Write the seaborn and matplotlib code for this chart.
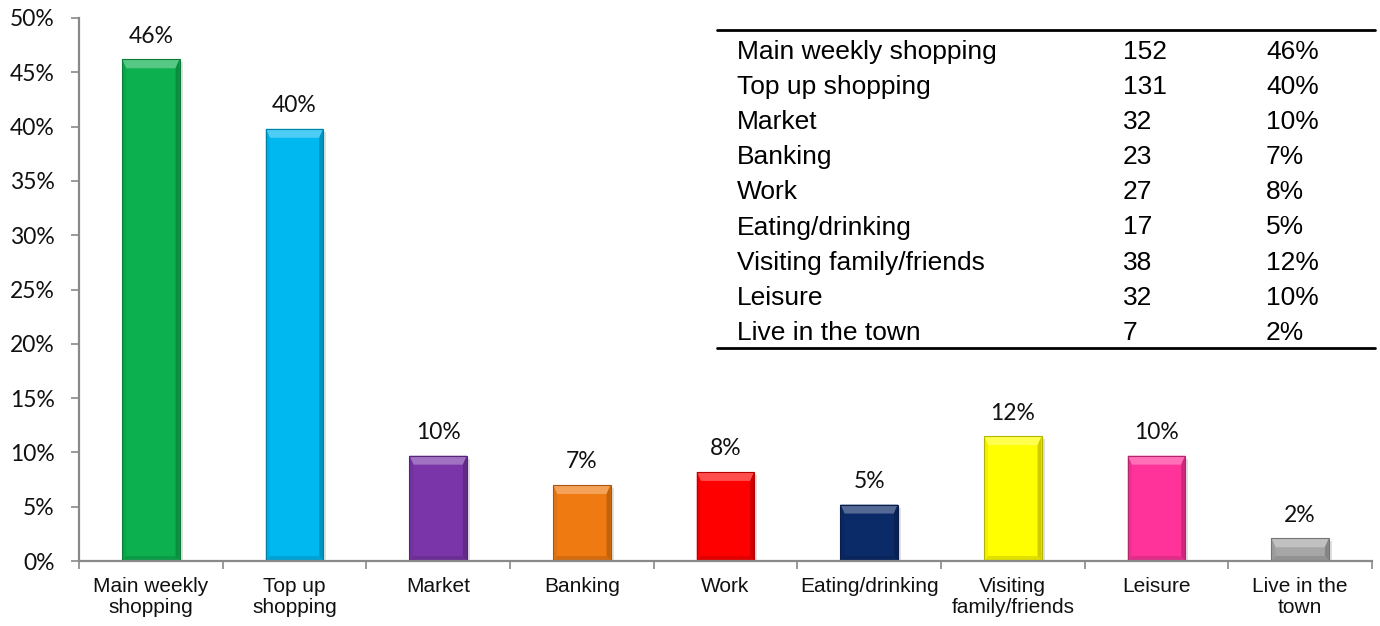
import numpy as np
import pandas as pd
import matplotlib
matplotlib.use("Agg")
import matplotlib.pyplot as plt
from matplotlib.patches import Polygon
from matplotlib.ticker import FixedLocator, PercentFormatter
from matplotlib.colors import to_rgb
import seaborn as sns

# Reasons for visiting the town
categories = ["Main weekly\nshopping", "Top up\nshopping", "Market", "Banking", "Work",
              "Eating/drinking", "Visiting\nfamily/friends", "Leisure", "Live in the\ntown"]
table_names = ["Main weekly shopping", "Top up shopping", "Market", "Banking", "Work",
               "Eating/drinking", "Visiting family/friends", "Leisure", "Live in the town"]
counts = [152, 131, 32, 23, 27, 17, 38, 32, 7]
shares = [0.462, 0.398, 0.097, 0.070, 0.082, 0.052, 0.115, 0.097, 0.021]
bar_colors = ["#0DB04F", "#00B8F0", "#7A35A8", "#F07A12", "#FF0000",
              "#0B2A68", "#FFFF00", "#FF3399", "#A6A6A6"]

df = pd.DataFrame({"reason": categories, "share": shares})

sns.set_theme(style="white")
plt.rcParams["font.family"] = ["Liberation Sans", "DejaVu Sans"]

W, H = 1380, 626
fig = plt.figure(figsize=(W / 100, H / 100), dpi=100)
ax = fig.add_axes([79 / W, 1 - 561 / H, (1372 - 79) / W, (561 - 18) / H])

sns.barplot(data=df, x="reason", y="share", hue="reason", palette=bar_colors,
            width=0.40, legend=False, ax=ax, saturation=1, edgecolor="none")

ax.set_xlim(-0.5, len(categories) - 0.5)
ax.set_ylim(0, 0.5)
ax.set_yticks(np.arange(0, 0.501, 0.05))
ax.yaxis.set_major_formatter(PercentFormatter(1.0, decimals=0))
ax.set_xlabel("")
ax.set_ylabel("")

axis_grey = "#898989"
for side in ["top", "right"]:
    ax.spines[side].set_visible(False)
for side in ["left", "bottom"]:
    ax.spines[side].set_color(axis_grey)
    ax.spines[side].set_linewidth(1.6)

num_font = ["Lato", "DejaVu Sans"]
ax.tick_params(axis="y", direction="out", length=6, width=1.2, color=axis_grey,
               labelsize=16.5, labelcolor="#111111", pad=11.5, left=True)
for lab in ax.get_yticklabels():
    lab.set_fontfamily(num_font)
ax.tick_params(axis="x", which="major", length=0, labelsize=15, labelcolor="#111111", pad=11.5)
ax.xaxis.set_minor_locator(FixedLocator(np.arange(-0.5, len(categories), 1.0)))
ax.tick_params(axis="x", which="minor", direction="out", length=6, width=1.2,
               color=axis_grey, bottom=True)
for lab in ax.get_xticklabels():
    lab.set_linespacing(1.15)

# Bevelled look on each bar
def shade(c, f):
    r, g, b = to_rgb(c)
    if f >= 0:
        return (r + (1 - r) * f, g + (1 - g) * f, b + (1 - b) * f)
    return (r * (1 + f), g * (1 + f), b * (1 + f))

to_disp = ax.transData.transform
for p, col, val in zip(list(ax.patches), bar_colors, shares):
    x0, y0 = p.get_x(), p.get_y()
    x1, y1 = x0 + p.get_width(), y0 + p.get_height()
    (px0, py0), (px1, py1) = to_disp((x0, y0)), to_disp((x1, y1))
    top = min(9, (py1 - py0) / 2)
    side = 4
    bot = min(5, (py1 - py0) / 3)
    z = p.get_zorder()
    kw = dict(transform=None, closed=True, linewidth=0, zorder=z + 0.1)
    # soft drop shadow
    ax.add_patch(Polygon([(px0 + 2, py0), (px1 + 3, py0), (px1 + 3, py1 - 3), (px1, py1 - 3), (px1, py0)],
                         facecolor=(0, 0, 0, 0.12), transform=None, closed=True, linewidth=0,
                         zorder=z - 0.1))
    ax.add_patch(Polygon([(px0, py1), (px1, py1), (px1 - side, py1 - top), (px0 + side, py1 - top)],
                         facecolor=shade(col, 0.30), **kw))
    ax.add_patch(Polygon([(px0, py1), (px0 + side, py1 - top), (px0 + side, py0 + bot), (px0, py0)],
                         facecolor=shade(col, -0.06), **kw))
    ax.add_patch(Polygon([(px1, py1), (px1 - side, py1 - top), (px1 - side, py0 + bot), (px1, py0)],
                         facecolor=shade(col, -0.20), **kw))
    ax.add_patch(Polygon([(px0, py0), (px0 + side, py0 + bot), (px1 - side, py0 + bot), (px1, py0)],
                         facecolor=shade(col, -0.12), **kw))
    ax.add_patch(Polygon([(px0, py0), (px0, py1), (px1, py1), (px1, py0)], facecolor="none",
                         edgecolor=shade(col, -0.30), linewidth=0.8, transform=None, closed=True,
                         zorder=z + 0.2))
    ax.annotate(f"{val:.0%}", xy=((x0 + x1) / 2, y1), xytext=(0, 9), textcoords="offset points",
                ha="center", va="bottom", fontsize=16.5, color="#111111", fontfamily=num_font)

# Summary table in the upper right
tx0, tx1 = 717 / W, 1375 / W
fig.add_artist(plt.Line2D([tx0, tx1], [1 - 30 / H] * 2, color="black", lw=2))
fig.add_artist(plt.Line2D([tx0, tx1], [1 - 348 / H] * 2, color="black", lw=2))
row_y = 52
for name, n, s in zip(table_names, counts, shares):
    y = 1 - row_y / H
    fig.text(737 / W, y, name, ha="left", va="center", fontsize=19, color="black")
    fig.text(1123 / W, y, f"{n}", ha="left", va="center", fontsize=19, color="black")
    fig.text(1266 / W, y, f"{s:.0%}", ha="left", va="center", fontsize=19, color="black")
    row_y += 35.1

fig.savefig("out.png", dpi=100, facecolor="white")
